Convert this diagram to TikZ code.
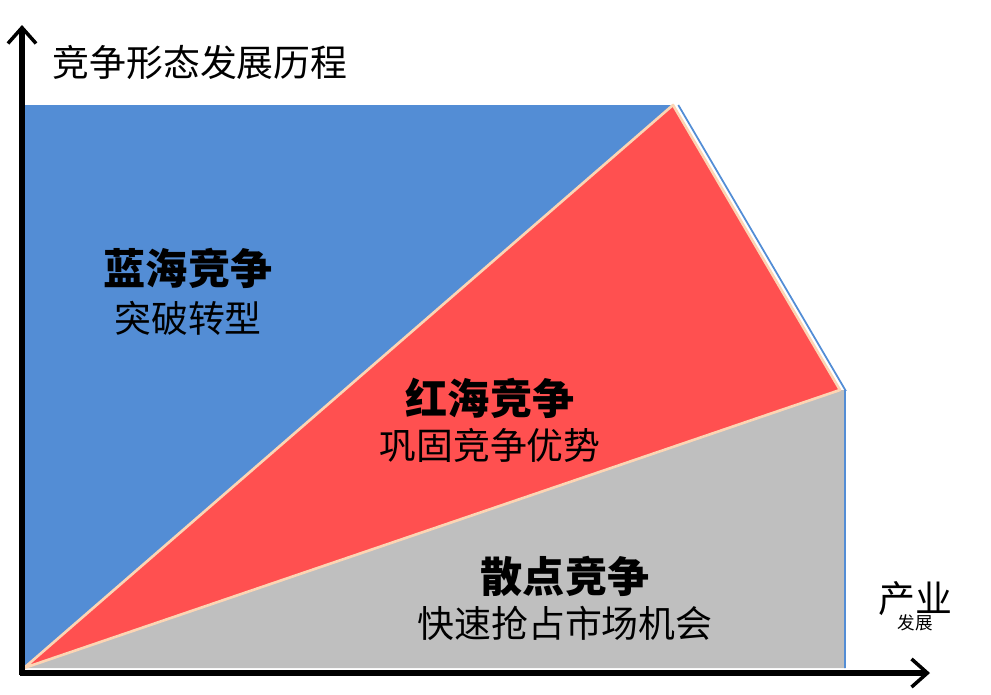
\documentclass[tikz,border=0pt]{standalone}
\usepackage{fontspec}
\setmainfont{Noto Sans CJK SC}
\usetikzlibrary{arrows.meta}
\definecolor{blueSea}{RGB}{83,141,213}
\definecolor{redSea}{RGB}{255,80,80}
\definecolor{grayPt}{RGB}{191,191,191}
\definecolor{peach}{RGB}{252,213,180}
\tikzset{
  title/.style={font=\fontsize{24}{28}\selectfont\bfseries},
  sub/.style={font=\fontsize{21}{25}\selectfont},
  axis/.style={line width=3pt,-{Straight Barb[length=9pt,width=16pt,line width=2pt]}}
}
\begin{document}
\begin{tikzpicture}[x=0.02cm,y=-0.02cm]
  \useasboundingbox (0,0) rectangle (991,694);
  % regions
  \coordinate (o) at (24,668);
  \coordinate (tl) at (24,105);
  \coordinate (top) at (673,105);
  \coordinate (rc) at (840,390);
  \coordinate (rt) at (845,390);
  \coordinate (rb) at (845,668);
  \fill[blueSea] (o) -- (tl) -- (top) -- cycle;
  \fill[grayPt] (o) -- (rc) -- (rt) -- (rb) -- cycle;
  \draw[blueSea,line width=1pt] ([xshift=3pt]top) -- ([xshift=3pt]rc) -- (rt) -- (rb);
  \filldraw[fill=redSea,draw=peach,line width=1.5pt,line join=round] (o) -- (top) -- (rc) -- cycle;
  % axes
  \coordinate (ytop) at (22,25);
  \coordinate (xend) at (930,673);
  \draw[axis] (22,675) -- (ytop);
  \draw[axis] (20,673) -- (xend);
  % labels
  \node (ylab) at (200,62) {\fontsize{21}{25}\selectfont 竞争形态发展历程};
  \node[align=center] (xlab) at (915,606) {\fontsize{21}{26}\selectfont 产业\\[-2pt]发展};
  \node[title] (blue) at (188,268) {蓝海竞争};
  \node[sub] (blueS) at (188,318) {突破转型};
  \node[title] (red) at (490,398) {红海竞争};
  \node[sub] (redS) at (490,445) {巩固竞争优势};
  \node[title] (gray) at (565,576) {散点竞争};
  \node[sub] (grayS) at (565,623) {快速抢占市场机会};
\end{tikzpicture}
\end{document}
